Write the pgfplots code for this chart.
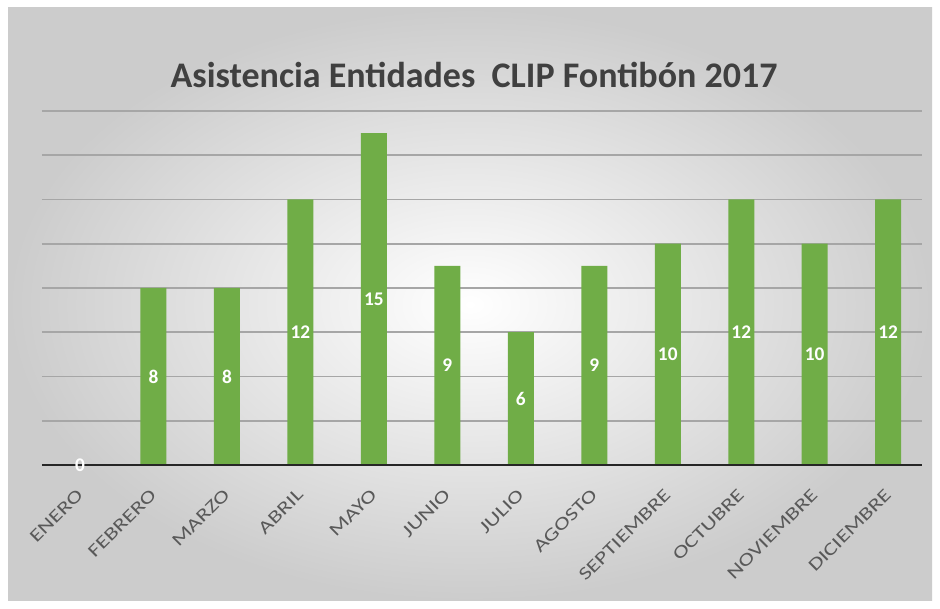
\documentclass[border=0pt]{standalone}
\usepackage{pgfplots}
\pgfplotsset{compat=1.18}
\usepackage{fontspec}
\setmainfont{Carlito}
\newfontfamily\widefont[FakeStretch=1.32]{Carlito}
\definecolor{barg}{HTML}{70AD47}
\definecolor{gridg}{HTML}{A6A6A6}
\definecolor{txtg}{HTML}{595959}
\begin{document}
\begin{tikzpicture}[x=1pt,y=1pt]
\fill[white] (0,0) rectangle (705,456.75);
\shade[inner color=white, outer color=black!20] (6,6) rectangle (699,450.75);
\node[font=\bfseries\fontsize{27}{32}\selectfont, text=black!75] at (355.5,400.5) {Asistencia Entidades \ CLIP Fontibón 2017};
\begin{axis}[at={(31.5pt,108pt)}, anchor=south west, scale only axis,
  width=660pt, height=265.5pt,
  xmin=-0.517, xmax=11.46, ymin=0, ymax=16,
  axis line style={draw=none},
  /pgf/number format/assume math mode=true,
  ytick={2,4,...,16}, yticklabels={},
  ymajorgrids, grid style={gridg, line width=1.3pt},
  major tick length=0pt,
  xtick={0,...,11},
  xticklabels={ENERO,FEBRERO,MARZO,ABRIL,MAYO,JUNIO,JULIO,AGOSTO,SEPTIEMBRE,OCTUBRE,NOVIEMBRE,DICIEMBRE},
  xticklabel style={yshift=-20pt, rotate=45, anchor=east, inner sep=0pt, font=\widefont\fontsize{13.5}{15}\selectfont, text=txtg},
  clip=false]
\addplot[ybar, fill=barg, draw=none, bar width=19.5pt,
  visualization depends on=rawy \as \rawy,
  nodes near coords,
  every node near coord/.append style={font=\bfseries\fontsize{14.5}{16}\selectfont, text=white, anchor=center, yshift=-\rawy*8.297pt}]
  coordinates {(0,0) (1,8) (2,8) (3,12) (4,15) (5,9) (6,6) (7,9) (8,10) (9,12) (10,10) (11,12)};
\draw[black!85, line width=2.2pt] (axis cs:-0.517,0) -- (axis cs:11.46,0);
\end{axis}
\end{tikzpicture}
\end{document}
